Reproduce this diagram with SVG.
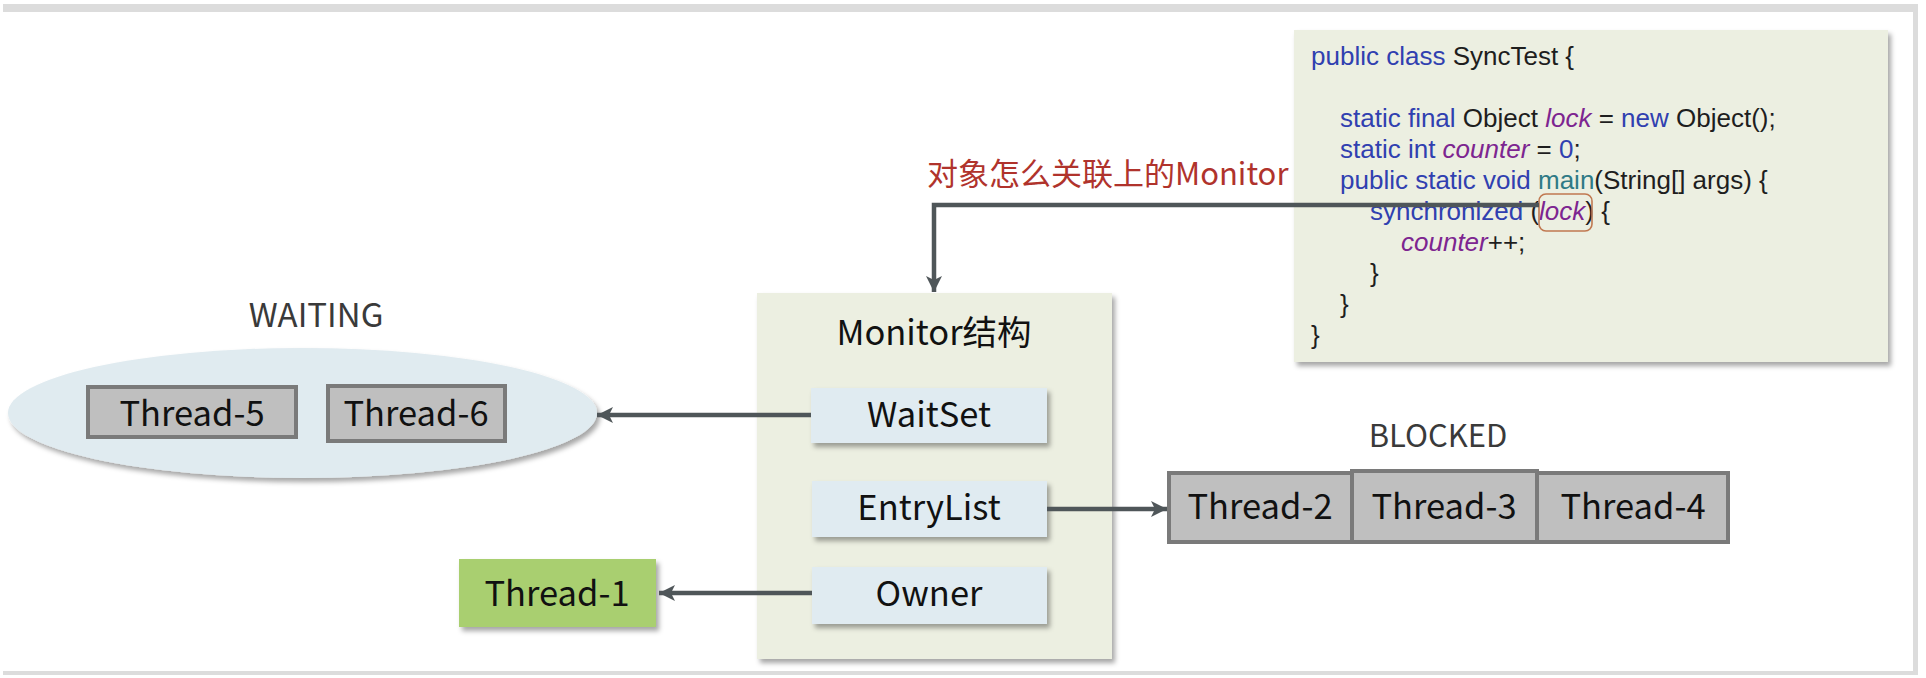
<svg xmlns="http://www.w3.org/2000/svg" width="1926" height="678" viewBox="0 0 1926 678">
<defs>
<filter id="sh" x="-10%" y="-10%" width="130%" height="130%">
<feDropShadow dx="3" dy="4" stdDeviation="2.5" flood-color="#000" flood-opacity="0.35"/>
</filter>
<marker id="ah" markerUnits="userSpaceOnUse" markerWidth="18" markerHeight="18" viewBox="0 0 18 18" refX="16" refY="9" orient="auto">
<path d="M0,1 L16,9 L0,17 L4,9 Z" fill="#4f5659"/>
</marker>
</defs>
<style>
.lbl{font-family:"Noto Sans CJK SC","Noto Sans",sans-serif;fill:#111;text-anchor:middle;font-size:34.5px}
.hdr{font-family:"Noto Sans CJK SC","Noto Sans",sans-serif;fill:#3a3a3a;text-anchor:middle}
.code{font-family:"Liberation Sans",Arial,sans-serif;font-size:26px;fill:#1e1e1e}
.kw{fill:#3040b0}
.v{fill:#7d2590;font-style:italic}
.fn{fill:#2f7a86}
.mon{fill:#ecefe1}
.sub{fill:#e0ebf1;filter:url(#sh)}
.thr{fill:#bfbfbf;stroke:#7a7a7a;stroke-width:4}
.con{fill:none;stroke:#4f5659;stroke-width:4.5;marker-end:url(#ah)}
</style>
<rect x="0" y="0" width="1926" height="678" fill="#fff"/>
<rect x="3" y="4" width="1915" height="671" fill="#dcdcdc"/>
<rect x="3" y="12" width="1910" height="659" fill="#fff"/>

<g id="code">
<rect x="1294" y="30" width="594" height="332" class="mon" filter="url(#sh)"/>
<text class="code" x="1311" y="65"><tspan class="kw">public class</tspan> SyncTest {</text>
<text class="code" x="1340" y="127"><tspan class="kw">static final</tspan> Object <tspan class="v">lock</tspan> = <tspan class="kw">new</tspan> Object();</text>
<text class="code" x="1340" y="158"><tspan class="kw">static int</tspan> <tspan class="v">counter</tspan> = <tspan class="kw">0</tspan>;</text>
<text class="code" x="1340" y="189"><tspan class="kw">public static void</tspan> <tspan class="fn">main</tspan>(String[] args) {</text>
<text class="code" x="1370" y="220"><tspan class="kw">synchronized</tspan> (<tspan class="v">lock</tspan>) {</text>
<text class="code" x="1401" y="251"><tspan class="v">counter</tspan>++;</text>
<text class="code" x="1370" y="282">}</text>
<text class="code" x="1340" y="313">}</text>
<text class="code" x="1311" y="344">}</text>
<rect x="1539" y="194" width="53" height="37" rx="7" fill="none" stroke="#c07850" stroke-width="1.6"/>
</g>

<g id="label-monitor-link">
<text x="927" y="185" font-family="'Noto Sans CJK SC','Noto Sans',sans-serif" font-size="31" fill="#b0332c">对象怎么关联上的Monitor</text>
</g>

<g id="waiting">
<text class="hdr" x="316" y="327" font-size="33">WAITING</text>
<ellipse cx="302.5" cy="413" rx="294.5" ry="65" fill="#e0ebf0" filter="url(#sh)"/>
<g id="thread-5"><rect x="88" y="387" width="208" height="50" class="thr"/><text class="lbl" x="192" y="426">Thread-5</text></g>
<g id="thread-6"><rect x="328" y="386" width="177" height="55" class="thr"/><text class="lbl" x="416" y="426">Thread-6</text></g>
</g>

<g id="monitor">
<rect x="757" y="293" width="355" height="366" class="mon" filter="url(#sh)"/>
<text class="lbl" x="934" y="345" font-size="36.5" fill="#333">Monitor结构</text>
<g id="waitset"><rect x="811" y="388" width="236" height="55" class="sub"/><text class="lbl" x="929" y="427">WaitSet</text></g>
<g id="entrylist"><rect x="812" y="481" width="235" height="56" class="sub"/><text class="lbl" x="929" y="520">EntryList</text></g>
<g id="owner"><rect x="812" y="567" width="235" height="57" class="sub"/><text class="lbl" x="929" y="606">Owner</text></g>
</g>

<g id="blocked">
<text class="hdr" x="1438" y="447" font-size="31">BLOCKED</text>
<g id="thread-2"><rect x="1169" y="473" width="183" height="69" class="thr"/><text class="lbl" x="1260" y="519">Thread-2</text></g>
<g id="thread-3"><rect x="1352" y="471" width="185" height="71" class="thr"/><text class="lbl" x="1444" y="519">Thread-3</text></g>
<g id="thread-4"><rect x="1537" y="473" width="191" height="69" class="thr"/><text class="lbl" x="1633" y="519">Thread-4</text></g>
</g>

<g id="thread-1">
<rect x="459" y="559" width="197" height="68" fill="#a9cf6f" filter="url(#sh)"/>
<text class="lbl" x="557" y="606">Thread-1</text>
</g>

<g id="connectors">
<path class="con" d="M1539,205 H934 V292"/>
<path class="con" d="M811,415 H597"/>
<path class="con" d="M1047,509 H1167"/>
<path class="con" d="M812,593 H659"/>
</g>
</svg>
